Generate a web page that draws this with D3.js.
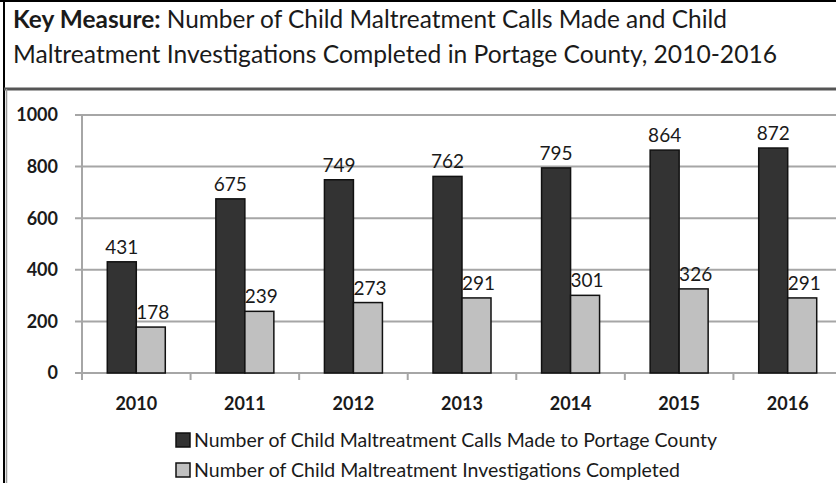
<!DOCTYPE html>
<head>
  <meta charset="utf-8" />
  <script src="https://cdn.jsdelivr.net/npm/d3@7"></script>
  <style>
    body {
      margin: 0;
      background: #fff;
    }
    text {
      font-family: Lato, "Open Sans", sans-serif;
      fill: #1a1a1a;
    }
    .grid line {
      stroke: #a6a6a6;
      stroke-width: 2;
    }
  </style>
</head>

<body>
  <script>
    var years = ["2010", "2011", "2012", "2013", "2014", "2015", "2016"];
    var calls = [431, 675, 749, 762, 795, 864, 872];
    var investigations = [178, 239, 273, 291, 301, 326, 291];
    var yTicks = [0, 200, 400, 600, 800, 1000];
    var seriesNames = [
      "Number of Child Maltreatment Calls Made to Portage County",
      "Number of Child Maltreatment Investigations Completed"
    ];
    var seriesColors = ["#333333", "#c0c0c0"];

    var width = 836,
      height = 483;

    var svg = d3
      .select("body")
      .append("svg")
      .attr("width", width)
      .attr("height", height);

    // title box (narrow font in the original, so squeeze to its width)
    var t1 = svg
      .append("text")
      .attr("x", 13)
      .attr("y", 28)
      .attr("textLength", 714)
      .attr("lengthAdjust", "spacingAndGlyphs")
      .style("font-size", "25px");
    t1.append("tspan").style("font-weight", "bold").text("Key Measure:");
    t1.append("tspan").text(" Number of Child Maltreatment Calls Made and Child");

    svg
      .append("text")
      .attr("x", 13)
      .attr("y", 63)
      .attr("textLength", 764)
      .attr("lengthAdjust", "spacingAndGlyphs")
      .style("font-size", "25px")
      .text("Maltreatment Investigations Completed in Portage County, 2010-2016");

    svg.append("line").attr("x1", 0).attr("x2", width).attr("y1", 1).attr("y2", 1)
      .attr("stroke", "#000").attr("stroke-width", 2);
    svg.append("line").attr("x1", 4).attr("x2", 4).attr("y1", 0).attr("y2", height)
      .attr("stroke", "#000").attr("stroke-width", 2);
    svg.append("line").attr("x1", 4).attr("x2", width).attr("y1", 89).attr("y2", 89)
      .attr("stroke", "#555").attr("stroke-width", 3);
    svg.append("line").attr("x1", 6.5).attr("x2", 6.5).attr("y1", 89).attr("y2", height)
      .attr("stroke", "#999").attr("stroke-width", 1.5);

    // chart
    var x = d3.scaleBand().domain(years).range([82, 842]);
    var y = d3.scaleLinear().domain([0, 1000]).range([373, 115]);
    var barW = 29;

    var grid = svg.append("g").attr("class", "grid");
    grid
      .selectAll("line")
      .data(yTicks)
      .enter()
      .append("line")
      .attr("x1", 75)
      .attr("x2", width)
      .attr("y1", d => y(d))
      .attr("y2", d => y(d));

    // axis lines + ticks
    svg.append("line").attr("x1", 82).attr("x2", 82).attr("y1", y(1000)).attr("y2", y(0) + 7)
      .attr("stroke", "#a6a6a6").attr("stroke-width", 2);
    svg
      .selectAll(".xtick")
      .data(years.slice(1))
      .enter()
      .append("line")
      .attr("x1", d => x(d))
      .attr("x2", d => x(d))
      .attr("y1", y(0))
      .attr("y2", y(0) + 7)
      .attr("stroke", "#a6a6a6")
      .attr("stroke-width", 2);

    svg
      .selectAll(".ylab")
      .data(yTicks)
      .enter()
      .append("text")
      .attr("x", 58)
      .attr("y", d => y(d))
      .attr("dy", "0.35em")
      .attr("text-anchor", "end")
      .style("font-size", "18px")
      .style("font-weight", "bold")
      .text(d => d);

    svg
      .selectAll(".xlab")
      .data(years)
      .enter()
      .append("text")
      .attr("x", d => x(d) + x.bandwidth() / 2)
      .attr("y", 410)
      .attr("text-anchor", "middle")
      .style("font-size", "18px")
      .style("font-weight", "bold")
      .text(d => d);

    var series = [calls, investigations];
    series.forEach((vals, si) => {
      var g = svg.append("g");
      var off = si == 0 ? -barW : 0;
      g.selectAll("rect")
        .data(vals)
        .enter()
        .append("rect")
        .attr("x", (d, i) => x(years[i]) + x.bandwidth() / 2 + off)
        .attr("y", d => y(d))
        .attr("width", barW)
        .attr("height", d => y(0) - y(d))
        .attr("fill", seriesColors[si])
        .attr("stroke", "#111")
        .attr("stroke-width", 1.5);
      g.selectAll("text")
        .data(vals)
        .enter()
        .append("text")
        .attr("x", (d, i) => x(years[i]) + x.bandwidth() / 2 + off + barW / 2 + (si == 1 ? 2 : 0))
        .attr("y", d => y(d) - 8)
        .attr("text-anchor", "middle")
        .style("font-size", "19px")
        .text(d => d);
    });

    // legend
    var legW = [523, 486];
    var leg = svg
      .selectAll(".leg")
      .data(seriesNames)
      .enter()
      .append("g")
      .attr("transform", (d, i) => "translate(176," + (433 + i * 30) + ")");
    leg
      .append("rect")
      .attr("width", 14)
      .attr("height", 14)
      .attr("fill", (d, i) => seriesColors[i])
      .attr("stroke", "#111")
      .attr("stroke-width", 1.5);
    leg
      .append("text")
      .attr("x", 18)
      .attr("y", 14)
      .attr("textLength", (d, i) => legW[i])
      .attr("lengthAdjust", "spacingAndGlyphs")
      .style("font-size", "19px")
      .text(d => d);
  </script>
</body>
